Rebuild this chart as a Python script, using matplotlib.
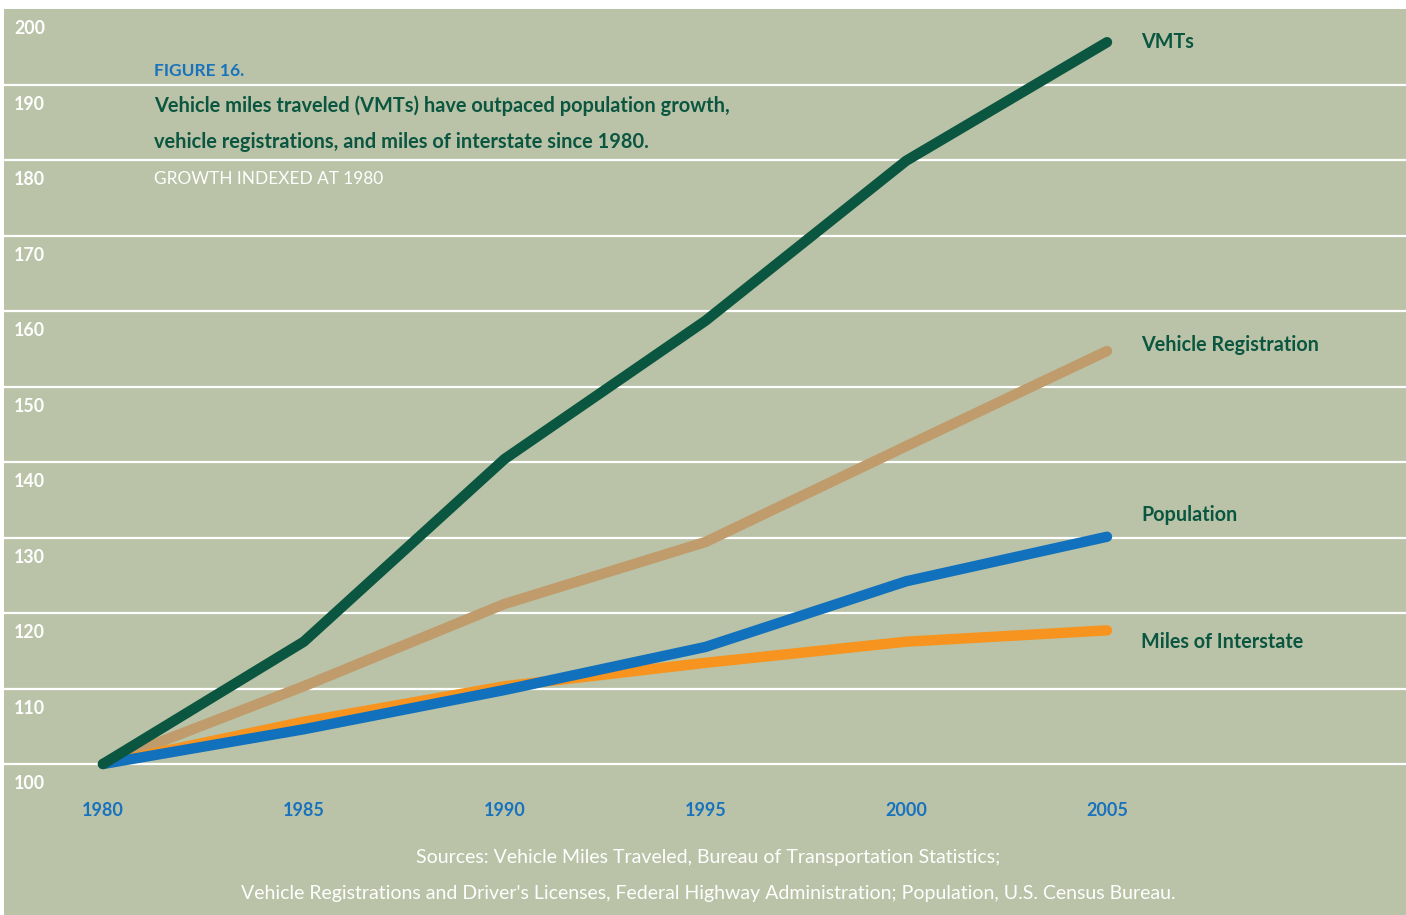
import numpy as np
import matplotlib
matplotlib.use("Agg")
import matplotlib.pyplot as plt

# growth indexed at 1980 = 100
years = [1980, 1985, 1990, 1995, 2000, 2005]
vmts = [100, 116.2, 140.4, 158.7, 179.9, 195.6]
vehicle_registration = [100, 110.3, 121.2, 129.4, 142.1, 154.7]
population = [100, 104.6, 109.8, 115.5, 124.2, 130.1]
miles_interstate = [100, 105.6, 110.3, 113.4, 116.2, 117.7]

series_names = ["VMTs", "Vehicle Registration", "Population", "Miles of Interstate"]
y_ticks = list(range(100, 201, 10))

BG = "#bac3a7"
DARK = "#0b5640"
BLUE = "#1872bd"
COLORS = {"VMTs": DARK, "Vehicle Registration": "#c09b6c",
          "Population": "#1271bc", "Miles of Interstate": "#f6941f"}

plt.rcParams['font.family'] = ['Lato', 'DejaVu Sans']

W, H = 1406, 915
fig = plt.figure(figsize=(W / 100, H / 100), dpi=100)
fig.patch.set_facecolor("white")

# green panel spans x 4..1406, y 9..915 (pixels from top)
ax = fig.add_axes([4 / W, 0, (W - 4) / W, (H - 9) / H])
ax.set_facecolor(BG)
for s in ax.spines.values():
    s.set_visible(False)
ax.set_xticks([])
ax.set_yticks([])

pxyr = (1107 - 103) / 25.0
ax.set_xlim(1980 - 99 / pxyr, 2005 + 299 / pxyr)
ax.set_ylim(80, 200)

for v in y_ticks[:-1]:
    ax.axhline(v, color="white", lw=1.6, zorder=1)
for v in y_ticks:
    ax.text(1980 - 89 / pxyr, v - 2.6, str(v), color="white", fontsize=12.8,
            fontweight="bold", ha="left", va="center")
for yr in years:
    ax.text(yr, 93.9, str(yr), color=BLUE, fontsize=13, fontweight="bold",
            ha="center", va="center")

data = {"VMTs": vmts, "Vehicle Registration": vehicle_registration,
        "Population": population, "Miles of Interstate": miles_interstate}
order = ["Vehicle Registration", "Miles of Interstate", "Population", "VMTs"]
for i, name in enumerate(order):
    ax.plot(years, data[name], color=COLORS[name], lw=7.5,
            solid_capstyle="round", solid_joinstyle="round", zorder=3 + i)

label_y = {"VMTs": 195.6, "Vehicle Registration": 155.5,
           "Population": 133.0, "Miles of Interstate": 116.2}
for name in series_names:
    ax.text(2005 + 34 / pxyr, label_y[name], name, color=DARK, fontsize=14.2,
            fontweight="bold", ha="left", va="center")

# title block
fig.text(154 / W, 1 - 71 / H, "FIGURE 16.", color=BLUE, fontsize=12.5,
         fontweight="bold", ha="left", va="center")
fig.text(154 / W, 1 - 106 / H,
         "Vehicle miles traveled (VMTs) have outpaced population growth,",
         color=DARK, fontsize=14.4, fontweight="bold", ha="left", va="center")
fig.text(154 / W, 1 - 142 / H,
         "vehicle registrations, and miles of interstate since 1980.",
         color=DARK, fontsize=14.4, fontweight="bold", ha="left", va="center")
fig.text(154 / W, 1 - 179 / H, "GROWTH INDEXED AT 1980", color="white",
         fontsize=12.4, ha="left", va="center")

fig.text(708 / W, 1 - 858 / H,
         "Sources: Vehicle Miles Traveled, Bureau of Transportation Statistics;",
         color="white", fontsize=14, ha="center", va="center")
fig.text(708 / W, 1 - 893 / H,
         "Vehicle Registrations and Driver's Licenses, Federal Highway Administration; Population, U.S. Census Bureau.",
         color="white", fontsize=14, ha="center", va="center")

fig.savefig("out.png", dpi=100, facecolor="white")
